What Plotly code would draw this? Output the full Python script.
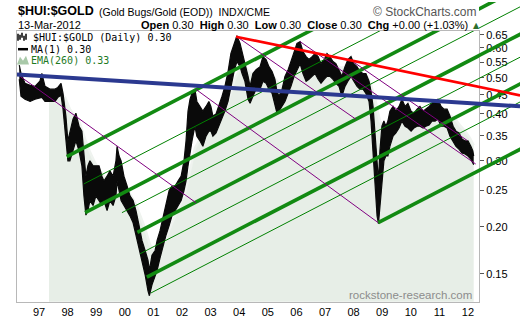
import math
import plotly.graph_objects as go

# ---------------- data ----------------
price_year = [1996.31, 1996.37, 1996.51, 1996.69, 1996.86, 1997.03, 1997.10, 1997.21, 1997.38, 1997.56,
              1997.66, 1997.77, 1997.84, 1997.94, 1998.01, 1998.08, 1998.19, 1998.29, 1998.40, 1998.50,
              1998.57, 1998.64, 1998.71, 1998.78, 1998.89, 1998.99, 1999.10, 1999.20, 1999.27, 1999.38,
              1999.48, 1999.59, 1999.69, 1999.73, 1999.80, 1999.87, 1999.97, 2000.08, 2000.18, 2000.29,
              2000.39, 2000.50, 2000.60, 2000.71, 2000.81, 2000.86, 2000.95, 2001.06, 2001.13, 2001.23,
              2001.34, 2001.44, 2001.55, 2001.65, 2001.76, 2001.86, 2001.97, 2002.07, 2002.14, 2002.21,
              2002.28, 2002.35, 2002.45, 2002.52, 2002.63, 2002.73, 2002.84, 2002.94, 2003.01, 2003.08,
              2003.19, 2003.29, 2003.40, 2003.50, 2003.61, 2003.71, 2003.82, 2003.92, 2004.03, 2004.10,
              2004.20, 2004.31, 2004.38, 2004.48, 2004.59, 2004.73, 2004.83, 2004.94, 2005.04, 2005.15,
              2005.25, 2005.32, 2005.39, 2005.50, 2005.60, 2005.71, 2005.81, 2005.92, 2006.02, 2006.13,
              2006.23, 2006.34, 2006.44, 2006.55, 2006.65, 2006.76, 2006.86, 2006.97, 2007.07, 2007.17,
              2007.28, 2007.38, 2007.49, 2007.59, 2007.70, 2007.80, 2007.91, 2008.01, 2008.12, 2008.22,
              2008.33, 2008.43, 2008.54, 2008.61, 2008.68, 2008.75, 2008.82, 2008.87, 2008.92, 2008.99,
              2009.06, 2009.13, 2009.20, 2009.27, 2009.38, 2009.48, 2009.59, 2009.69, 2009.80, 2009.90,
              2010.01, 2010.11, 2010.22, 2010.32, 2010.43, 2010.53, 2010.64, 2010.74, 2010.85, 2010.95,
              2011.06, 2011.16, 2011.27, 2011.37, 2011.48, 2011.58, 2011.69, 2011.79, 2011.90, 2012.00,
              2012.10, 2012.17, 2012.20]
price_high = [0.540, 0.513, 0.483, 0.477, 0.474, 0.489, 0.513, 0.474, 0.466, 0.466,
              0.471, 0.483, 0.454, 0.395, 0.339, 0.360, 0.388, 0.402, 0.371, 0.360,
              0.319, 0.273, 0.291, 0.300, 0.291, 0.291, 0.291, 0.273, 0.265, 0.273,
              0.282, 0.273, 0.300, 0.328, 0.309, 0.300, 0.273, 0.257, 0.242, 0.235,
              0.221, 0.2015, 0.184, 0.173, 0.163, 0.153, 0.168, 0.173, 0.184, 0.195,
              0.214, 0.228, 0.250, 0.257, 0.257, 0.265, 0.273, 0.300, 0.339, 0.407,
              0.438, 0.454, 0.466, 0.432, 0.419, 0.407, 0.419, 0.432, 0.419, 0.395,
              0.400, 0.419, 0.446, 0.474, 0.519, 0.580, 0.617, 0.647, 0.617, 0.587,
              0.552, 0.504, 0.474, 0.513, 0.525, 0.535, 0.569, 0.559, 0.535, 0.519,
              0.495, 0.460, 0.446, 0.466, 0.504, 0.525, 0.552, 0.587, 0.617, 0.624,
              0.587, 0.569, 0.559, 0.569, 0.580, 0.569, 0.545, 0.559, 0.580, 0.569,
              0.552, 0.545, 0.525, 0.504, 0.535, 0.559, 0.569, 0.545, 0.535, 0.519,
              0.513, 0.513, 0.489, 0.460, 0.419, 0.360, 0.300, 0.265, 0.319, 0.371,
              0.383, 0.371, 0.383, 0.407, 0.419, 0.407, 0.419, 0.438, 0.419, 0.427,
              0.407, 0.402, 0.412, 0.419, 0.407, 0.412, 0.419, 0.427, 0.432, 0.438,
              0.419, 0.412, 0.412, 0.395, 0.371, 0.360, 0.356, 0.343, 0.339, 0.339,
              0.328, 0.319, 0.309]
price_low = [0.495, 0.446, 0.438, 0.432, 0.438, 0.443, 0.443, 0.432, 0.432, 0.432,
             0.443, 0.449, 0.412, 0.349, 0.300, 0.300, 0.319, 0.339, 0.319, 0.291,
             0.242, 0.215, 0.221, 0.235, 0.228, 0.242, 0.235, 0.228, 0.235, 0.221,
             0.235, 0.228, 0.242, 0.265, 0.250, 0.235, 0.228, 0.221, 0.214, 0.205,
             0.190, 0.173, 0.163, 0.149, 0.135, 0.131, 0.140, 0.149, 0.153, 0.165,
             0.179, 0.190, 0.2015, 0.214, 0.221, 0.228, 0.235, 0.250, 0.265, 0.291,
             0.319, 0.339, 0.371, 0.349, 0.339, 0.328, 0.349, 0.360, 0.360, 0.349,
             0.356, 0.371, 0.388, 0.407, 0.432, 0.474, 0.519, 0.552, 0.535, 0.513,
             0.489, 0.438, 0.427, 0.446, 0.466, 0.466, 0.489, 0.483, 0.466, 0.454,
             0.419, 0.402, 0.407, 0.419, 0.432, 0.454, 0.474, 0.504, 0.525, 0.545,
             0.513, 0.489, 0.495, 0.504, 0.513, 0.495, 0.483, 0.495, 0.504, 0.504,
             0.495, 0.483, 0.474, 0.446, 0.474, 0.489, 0.504, 0.489, 0.474, 0.466,
             0.466, 0.454, 0.432, 0.383, 0.319, 0.250, 0.214, 0.204, 0.228, 0.265,
             0.300, 0.309, 0.309, 0.328, 0.349, 0.356, 0.367, 0.383, 0.371, 0.367,
             0.360, 0.367, 0.371, 0.371, 0.367, 0.371, 0.374, 0.383, 0.383, 0.388,
             0.371, 0.371, 0.367, 0.349, 0.337, 0.328, 0.322, 0.315, 0.313, 0.309,
             0.303, 0.296, 0.293]

ema_year = [1997.35, 1997.56, 1997.73, 1997.91, 1998.08, 1998.26, 1998.43, 1998.61, 1998.78, 1998.96,
            1999.13, 1999.31, 1999.48, 1999.66, 1999.83, 2000.01, 2000.18, 2000.36, 2000.53, 2000.71,
            2000.88, 2001.06, 2001.23, 2001.41, 2001.58, 2001.76, 2001.93, 2002.10, 2002.28, 2002.45,
            2002.63, 2002.80, 2002.98, 2003.15, 2003.33, 2003.50, 2003.68, 2003.85, 2004.03, 2004.20,
            2004.38, 2004.55, 2004.73, 2004.90, 2005.08, 2005.25, 2005.43, 2005.60, 2005.78, 2005.95,
            2006.13, 2006.30, 2006.48, 2006.65, 2006.83, 2007.17, 2007.35, 2007.52, 2007.87, 2008.05,
            2008.22, 2008.40, 2008.57, 2008.75, 2008.92, 2009.10, 2009.27, 2009.45, 2009.62, 2009.97,
            2010.32, 2010.67, 2011.02, 2011.37, 2011.55, 2011.72, 2011.90, 2012.07, 2012.20]
ema_value = [0.463, 0.460, 0.454, 0.443, 0.412, 0.393, 0.378, 0.343, 0.317, 0.296,
             0.282, 0.270, 0.263, 0.258, 0.260, 0.256, 0.245, 0.232, 0.215, 0.198,
             0.179, 0.173, 0.175, 0.184, 0.199, 0.214, 0.228, 0.245, 0.282, 0.324,
             0.343, 0.360, 0.376, 0.383, 0.395, 0.414, 0.449, 0.495, 0.528, 0.535,
             0.516, 0.510, 0.513, 0.519, 0.516, 0.498, 0.477, 0.474, 0.486, 0.510,
             0.538, 0.542, 0.545, 0.549, 0.545, 0.549, 0.542, 0.532, 0.532, 0.528,
             0.522, 0.510, 0.489, 0.440, 0.383, 0.371, 0.373, 0.383, 0.395, 0.402,
             0.407, 0.407, 0.407, 0.397, 0.388, 0.373, 0.360, 0.345, 0.330]

year_ticks = list(range(1997, 2013))
year_labels = ["97", "98", "99", "00", "01", "02", "03", "04", "05", "06", "07", "08", "09", "10", "11", "12"]
price_ticks = [0.15, 0.20, 0.25, 0.30, 0.35, 0.40, 0.45, 0.50, 0.55, 0.60, 0.65]
price_labels = ["0.15", "0.20", "0.25", "0.30", "0.35", "0.40", "0.45", "0.50", "0.55", "0.60", "0.65"]

# trend-line annotations: [x0, x1], [y0, y1]
green_thick_x = [[1997.97, 2013.9], [1998.61, 2013.9], [2000.44, 2013.9], [2000.77, 2013.9], [2008.86, 2013.9]]
green_thick_y = [[0.3077, 1.308], [0.2182, 0.8752], [0.1934, 0.6571], [0.1469, 0.4845], [0.2052, 0.3243]]
green_thin_x = [[1998.57, 2013.9], [1999.90, 2013.9], [2000.53, 2013.9], [2000.91, 2013.9]]
green_thin_y = [[0.2604, 1.048], [0.2182, 0.7781], [0.1695, 0.5711], [0.1332, 0.4338]]
purple_x = [[1996.34, 2002.49], [2002.49, 2008.86], [2003.92, 2008.08], [2006.13, 2012.27], [2007.87, 2011.97]]
purple_y = [[0.504, 0.2319], [0.4653, 0.2052], [0.6431, 0.3874], [0.6238, 0.2942], [0.5589, 0.3400]]
blue_x = [1996.23, 2013.82]
blue_y = [0.5099, 0.4194]
red_x = [2003.89, 2013.82]
red_y = [0.6431, 0.4485]

# ---------------- layout geometry ----------------
W, H = 520, 318
PL, PR, PT, PB = 16.7, 479.0, 29.3, 301.7   # plot box in pixels
X0, X1 = 1996.22, 2012.385
Y0, Y1 = 0.1262, 0.6655
LY0, LY1 = math.log10(Y0), math.log10(Y1)
ppx = (PR - PL) / (X1 - X0)
ppy = (PB - PT) / (LY1 - LY0)
X2 = X1 + (W - PR) / ppx
LY2 = LY1 + PT / ppy


def fx(p):
    return p / W


def fy(p):
    return 1 - p / H


fig = go.Figure()

# EMA(260) area
fig.add_trace(go.Scatter(x=ema_year, y=[Y0 * 0.9] * len(ema_year), mode="lines",
                         line=dict(width=0), hoverinfo="skip", showlegend=False))
fig.add_trace(go.Scatter(x=ema_year, y=ema_value, mode="lines", fill="tonexty",
                         fillcolor="#e7eee7", line=dict(width=2.5, color="#eff3ef"),
                         hoverinfo="skip", showlegend=False))

# price band
fig.add_trace(go.Scatter(x=price_year, y=price_low, mode="lines",
                         line=dict(width=1.2, color="#0a0a0a"), showlegend=False))
fig.add_trace(go.Scatter(x=price_year, y=price_high, mode="lines", fill="tonexty",
                         fillcolor="#0a0a0a", line=dict(width=1.2, color="#0a0a0a"),
                         showlegend=False))


def add_lines(xa, ya):
    for xs, ys in zip(green_thin_x, green_thin_y):
        fig.add_trace(go.Scatter(x=xs, y=ys, mode="lines", line=dict(color="#008000", width=1),
                                 xaxis=xa, yaxis=ya, showlegend=False))
    for xs, ys in zip(green_thick_x, green_thick_y):
        fig.add_trace(go.Scatter(x=xs, y=ys, mode="lines", line=dict(color="#128a12", width=3.6),
                                 xaxis=xa, yaxis=ya, showlegend=False))
    for xs, ys in zip(purple_x, purple_y):
        fig.add_trace(go.Scatter(x=xs, y=ys, mode="lines", line=dict(color="#800080", width=1),
                                 xaxis=xa, yaxis=ya, showlegend=False))
    fig.add_trace(go.Scatter(x=blue_x, y=blue_y, mode="lines", line=dict(color="#2b3990", width=4),
                             xaxis=xa, yaxis=ya, showlegend=False))
    fig.add_trace(go.Scatter(x=red_x, y=red_y, mode="lines", line=dict(color="#ff0000", width=2.6),
                             xaxis=xa, yaxis=ya, showlegend=False))


add_lines("x", "y")
add_lines("x2", "y2")

fig.update_layout(
    width=W, height=H, autosize=False,
    margin=dict(l=0, r=0, t=0, b=0),
    paper_bgcolor="white", plot_bgcolor="rgba(0,0,0,0)",
    hovermode=False,
    xaxis=dict(domain=[fx(PL), fx(PR)], range=[X0, X1], showgrid=False, zeroline=False,
               showline=True, mirror=True, linecolor="#b8b8b8", linewidth=1,
               tickmode="array", tickvals=year_ticks, ticktext=year_labels, ticks="",
               tickfont=dict(family="Liberation Sans", size=11, color="#000"), anchor="y"),
    yaxis=dict(domain=[fy(PB), fy(PT)], type="log", range=[LY0, LY1], side="right",
               showgrid=False, zeroline=False, showline=True, mirror=True,
               linecolor="#b8b8b8", linewidth=1,
               tickmode="array", tickvals=price_ticks, ticktext=price_labels,
               ticks="outside", ticklen=4, tickcolor="#555",
               tickfont=dict(family="Liberation Sans", size=11, color="#000"), anchor="x"),
    xaxis2=dict(domain=[fx(PR), 1], range=[X1, X2], visible=False, anchor="y2"),
    yaxis2=dict(domain=[fy(PB), 1], type="log", range=[LY0, LY2], visible=False, anchor="x2"),
)

ann = []
# header
ann.append(dict(text="<b>$HUI:$GOLD</b>", x=fx(15.5), y=fy(9.5), xanchor="left", yanchor="middle",
                font=dict(family="Liberation Sans", size=12.5, color="#000")))
ann.append(dict(text="(Gold Bugs/Gold (EOD))  INDX/CME", x=fx(97), y=fy(10), xanchor="left", yanchor="middle",
                font=dict(family="Liberation Sans", size=10.5, color="#000")))
ann.append(dict(text="© StockCharts.com", x=fx(479), y=fy(10.5), xanchor="right", yanchor="middle",
                font=dict(family="Liberation Sans", size=12, color="#555")))
ann.append(dict(text="13-Mar-2012", x=fx(16), y=fy(23.5), xanchor="left", yanchor="middle",
                font=dict(family="Liberation Sans", size=11, color="#000")))
ann.append(dict(text="<b>Open</b> 0.30  <b>High</b> 0.30  <b>Low</b> 0.30  <b>Close</b> 0.30  "
                     "<b>Chg</b> +0.00 (+1.03%)",
                x=fx(470), y=fy(23.5), xanchor="right", yanchor="middle",
                font=dict(family="Liberation Sans", size=11, color="#000")))
ann.append(dict(text="▲", x=fx(476), y=fy(23.5), xanchor="center", yanchor="middle",
                font=dict(family="DejaVu Sans", size=8, color="#2d6e2d")))
# legend
ann.append(dict(text="$HUI:$GOLD (Daily) 0.30", x=fx(31), y=fy(35.5), xanchor="left", yanchor="middle",
                font=dict(family="DejaVu Sans Mono", size=10, color="#000")))
ann.append(dict(text="MA(1) 0.30", x=fx(29), y=fy(47.5), xanchor="left", yanchor="middle",
                font=dict(family="DejaVu Sans Mono", size=10, color="#000")))
ann.append(dict(text="EMA(260) 0.33", x=fx(29), y=fy(59), xanchor="left", yanchor="middle",
                font=dict(family="DejaVu Sans Mono", size=10, color="#1f7a1f")))
# watermark
ann.append(dict(text="rockstone-research.com", x=fx(473.5), y=fy(295), xanchor="right", yanchor="middle",
                font=dict(family="Liberation Sans", size=11.5, color="#8c8c8c")))
for a in ann:
    a.update(xref="paper", yref="paper", showarrow=False)
fig.update_layout(annotations=ann)

# legend icons
shapes = []
for i, (bx, t, b) in enumerate([(18, 32, 39), (20, 33, 38), (22, 31, 36), (24, 34, 39), (26, 32, 38)]):
    shapes.append(dict(type="line", xref="paper", yref="paper", x0=fx(bx), x1=fx(bx), y0=fy(t), y1=fy(b),
                       line=dict(color="#000", width=1.5)))
shapes.append(dict(type="line", xref="paper", yref="paper", x0=fx(18), x1=fx(28), y0=fy(47.5), y1=fy(47.5),
                   line=dict(color="#000", width=2.5)))
shapes.append(dict(type="path", xref="paper", yref="paper",
                   path=f"M {fx(17)},{fy(63)} L {fx(20)},{fy(55)} L {fx(23)},{fy(59)} L {fx(26)},{fy(54)} "
                        f"L {fx(29)},{fy(63)} Z",
                   fillcolor="#a9c9a9", line=dict(width=0)))
fig.update_layout(shapes=shapes)

fig.write_html("out.html", config={"displayModeBar": False})
